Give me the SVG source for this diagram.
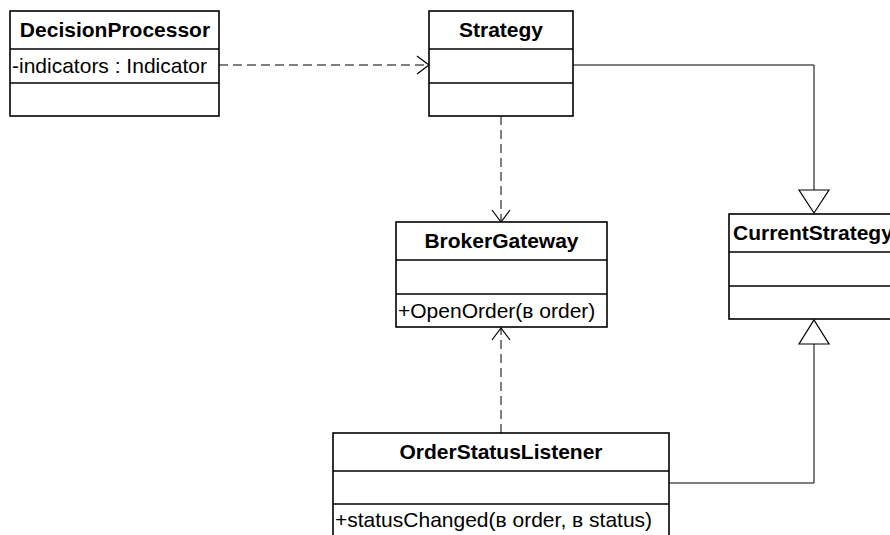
<svg xmlns="http://www.w3.org/2000/svg" width="890" height="535" viewBox="0 0 890 535">
<style>
.box{fill:#fff;stroke:#000;stroke-width:1.6}
.div{stroke:#000;stroke-width:1.6}
.h{font-family:"Liberation Sans",Arial,sans-serif;font-weight:bold;font-size:21px;text-anchor:middle;fill:#000}
.t{font-family:"Liberation Sans",Arial,sans-serif;font-size:21px;fill:#000}
.dash{fill:none;stroke:#000;stroke-width:1;stroke-dasharray:9,5}
.solid{fill:none;stroke:#000;stroke-width:1}
.tri{fill:#fff;stroke:#000;stroke-width:1.2}
</style>
<defs>
<marker id="open" viewBox="0 0 14 20" refX="13" refY="10" markerWidth="14" markerHeight="20" markerUnits="userSpaceOnUse" orient="auto">
<path d="M1,1 L13,10 L1,19" fill="none" stroke="#000" stroke-width="1.2"/>
</marker>
</defs>
<g id="connectors">
<line class="dash" x1="219" y1="65" x2="429" y2="65" marker-end="url(#open)"/>
<line class="dash" x1="501" y1="116" x2="501" y2="222" marker-end="url(#open)"/>
<line class="dash" x1="501" y1="433" x2="501" y2="328" marker-end="url(#open)"/>
<polyline class="solid" points="573,65 814,65 814,190"/>
<polygon class="tri" points="799,190 829,190 814,213"/>
<polyline class="solid" points="669,483 814,483 814,344"/>
<polygon class="tri" points="799,344 829,344 814,320"/>
</g>
<g id="DecisionProcessor">
<rect class="box" x="10" y="11" width="209" height="105"/>
<line class="div" x1="10" y1="49" x2="219" y2="49"/>
<line class="div" x1="10" y1="83" x2="219" y2="83"/>
<text class="h" x="115" y="37">DecisionProcessor</text>
<text class="t" x="12" y="73">-indicators : Indicator</text>
</g>
<g id="Strategy">
<rect class="box" x="429" y="11" width="144" height="105"/>
<line class="div" x1="429" y1="49" x2="573" y2="49"/>
<line class="div" x1="429" y1="83" x2="573" y2="83"/>
<text class="h" x="501" y="37">Strategy</text>
</g>
<g id="BrokerGateway">
<rect class="box" x="396" y="222" width="211" height="105"/>
<line class="div" x1="396" y1="260" x2="607" y2="260"/>
<line class="div" x1="396" y1="294" x2="607" y2="294"/>
<text class="h" x="501.5" y="248">BrokerGateway</text>
<text class="t" x="398" y="318">+OpenOrder(в order)</text>
</g>
<g id="CurrentStrategy">
<rect class="box" x="729" y="214" width="180" height="105"/>
<line class="div" x1="729" y1="252" x2="909" y2="252"/>
<line class="div" x1="729" y1="286" x2="909" y2="286"/>
<text class="h" x="733" y="240" style="text-anchor:start">CurrentStrategy</text>
</g>
<g id="OrderStatusListener">
<rect class="box" x="333" y="433" width="336" height="120"/>
<line class="div" x1="333" y1="471" x2="669" y2="471"/>
<line class="div" x1="333" y1="504" x2="669" y2="504"/>
<text class="h" x="501" y="459">OrderStatusListener</text>
<text class="t" x="335" y="527">+statusChanged(в order, в status)</text>
</g>
</svg>
